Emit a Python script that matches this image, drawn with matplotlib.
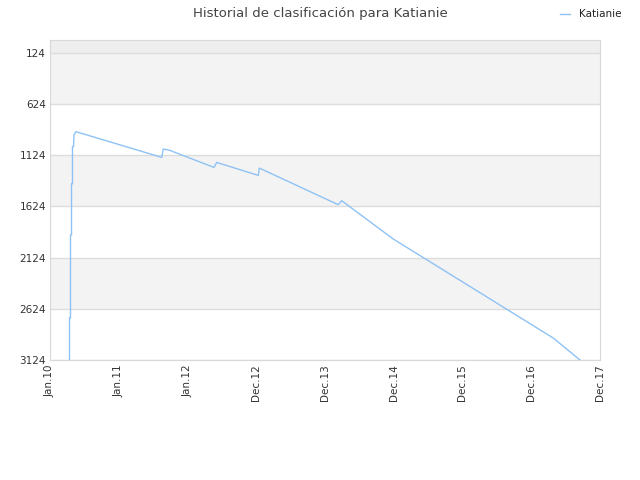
import matplotlib

matplotlib.use("Agg")
import matplotlib.pyplot as plt  # noqa: E402

# x positions are category slots (0 = Jan.10 ... 8 = Dec.17)
tick_labels = ["Jan.10", "Jan.11", "Jan.12", "Dec.12", "Dec.13",
               "Dec.14", "Dec.15", "Dec.16", "Dec.17"]
y_ticks = [124, 624, 1124, 1624, 2124, 2624, 3124]

# ranking history
pos_x = [0.284, 0.284, 0.298, 0.298, 0.313, 0.313, 0.327, 0.327,
         0.342, 0.349, 0.378,
         1.625, 1.648, 1.745, 2.385, 2.425, 3.030, 3.044,
         4.193, 4.243, 4.993, 7.321, 7.709]
rank = [3124, 2712, 2712, 1901, 1901, 1403, 1403, 1042,
        1042, 925, 895,
        1146, 1064, 1078, 1244, 1195, 1322, 1250,
        1608, 1569, 1943, 2910, 3124]

fig = plt.figure(figsize=(6.4, 4.8), dpi=100)
ax = fig.add_axes([50 / 640, 1 - 360 / 480, 550 / 640, 320 / 480])

ax.set_xlim(0, 8)
ax.set_ylim(3124, 0)

# alternating background bands
ax.axhspan(0, 124, color="#eeeeee", zorder=0, lw=0)
for i in range(len(y_ticks) - 1):
    if i % 2 == 0:
        ax.axhspan(y_ticks[i], y_ticks[i + 1], color="#f3f3f3", zorder=0, lw=0)

ax.plot(pos_x, rank, color="#8ec2f5", lw=1.0, label="Katianie", zorder=3)

ax.set_yticks(y_ticks)
ax.set_yticklabels([str(v) for v in y_ticks])
ax.set_xticks(range(len(tick_labels)))
ax.set_xticklabels(tick_labels, rotation=90)
ax.tick_params(length=0, labelsize=7.5, colors="#333333", pad=3)
ax.grid(axis="y", color="#dddddd", lw=1.0, zorder=1)
ax.set_axisbelow(True)
for s in ax.spines.values():
    s.set_color("#d8d8d8")

fig.suptitle("Historial de clasificación para Katianie", x=0.5, y=0.985,
             fontsize=9.5, color="#444444")
fig.legend(loc="upper right", bbox_to_anchor=(0.985, 1.0), frameon=False,
           fontsize=7.5, handlelength=1.0, labelcolor="#222222")

fig.savefig("out.png", dpi=100)
plt.close(fig)
